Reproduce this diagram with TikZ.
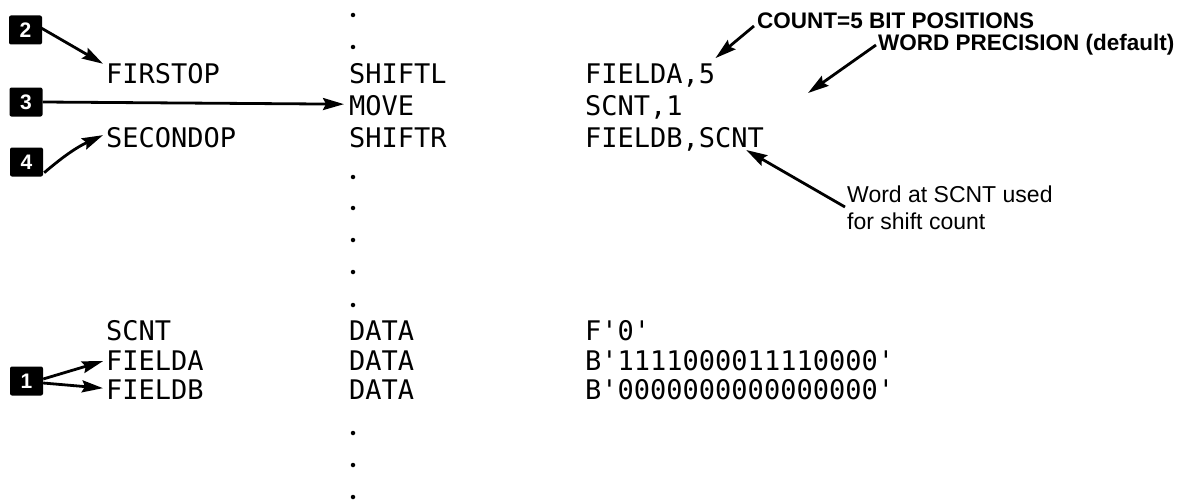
\documentclass[tikz,border=0pt]{standalone}
\usepackage{fontspec}
\setmainfont{Liberation Sans}
\setmonofont{DejaVu Sans Mono}
\usetikzlibrary{arrows.meta,calc}
\begin{document}
\begin{tikzpicture}[x=1pt,y=-1pt,
  code/.style={anchor=base west,inner sep=0pt,font=\ttfamily\fontsize{27}{30}\selectfont},
  note/.style={anchor=base west,inner sep=0pt,font=\fontsize{23}{27}\selectfont},
  bnote/.style={note,font=\bfseries\fontsize{22.5}{27}\selectfont},
  numbox/.style={fill=black,rounded corners=2pt,minimum width=33pt,minimum height=29pt,inner sep=0pt,text=white,font=\bfseries\fontsize{21}{21}\selectfont},
  arr/.style={line width=2.8pt,-{Stealth[length=21pt,width=12pt,inset=3pt]}},
  dotn/.style={circle,fill=black,inner sep=0pt,minimum size=4.5pt}]
\useasboundingbox (0,0) rectangle (1188,503);

% code lines (top)
\node[code] (firstop) at (106,83) {FIRSTOP};
\node[code] (shiftl) at (349,83) {SHIFTL};
\node[code] (fa5) at (585,83) {FIELDA,5};
\node[code] (move) at (349,115) {MOVE};
\node[code] (scnt1) at (585,115) {SCNT,1};
\node[code] (secondop) at (106,147) {SECONDOP};
\node[code] (shiftr) at (349,147) {SHIFTR};
\node[code] (fbscnt) at (585,147) {FIELDB,SCNT};

% code lines (bottom)
\node[code] (scnt) at (106,340) {SCNT};
\node[code] (data1) at (349,340) {DATA};
\node[code] (f0) at (585,340) {F'0'};
\node[code] (fielda) at (106,370) {FIELDA};
\node[code] (data2) at (349,370) {DATA};
\node[code] (bina) at (585,370) {B'1111000011110000'};
\node[code] (fieldb) at (106,399) {FIELDB};
\node[code] (data3) at (349,399) {DATA};
\node[code] (binb) at (585,399) {B'0000000000000000'};

% dots
\foreach \y [count=\i] in {15,47,177,208,240,272,305,433,465,497}
  \node[dotn] (dot\i) at (353,\y) {};

% number boxes
\node[numbox] (n2) at (25.5,30) {2};
\node[numbox] (n3) at (26,102) {3};
\node[numbox] (n4) at (26.5,162) {4};
\node[numbox] (n1) at (26.5,381) {1};

% annotations
\node[bnote] (count) at (757,29) {COUNT=5 BIT POSITIONS};
\node[bnote] (word) at (878,51) {WORD PRECISION (default)};
\node[note] (used1) at (847,202) {Word at SCNT used};
\node[note] (used2) at (847,229) {for shift count};
\coordinate (wtip) at (808,93);

% arrows
\draw[arr] ($(n2.east)+(-1,-2)$) -- ($(firstop.north west)+(-3,1)$);
\draw[arr] (n3.east) -- ($(move.west)+(-5,-1)$);
\draw[arr] ($(n4.south east)+(1,-4)$) to[bend left=8] ($(secondop.west)+(-3,-2)$);
\draw[arr] ($(n1.east)+(0,-2)$) -- ($(fielda.west)+(-3,1)$);
\draw[arr] ($(n1.east)+(0,2)$) -- ($(fieldb.west)+(-3,-1)$);
\draw[arr] ($(count.base west)+(-3,-3)$) -- ($(fa5.north east)+(0,-5)$);
\draw[arr] ($(word.base west)+(-2,-6)$) -- (wtip);
\draw[arr] ($(used1.base west)+(-2,5)$) -- ($(fbscnt.base east)+(-18,3)$);
\end{tikzpicture}
\end{document}
